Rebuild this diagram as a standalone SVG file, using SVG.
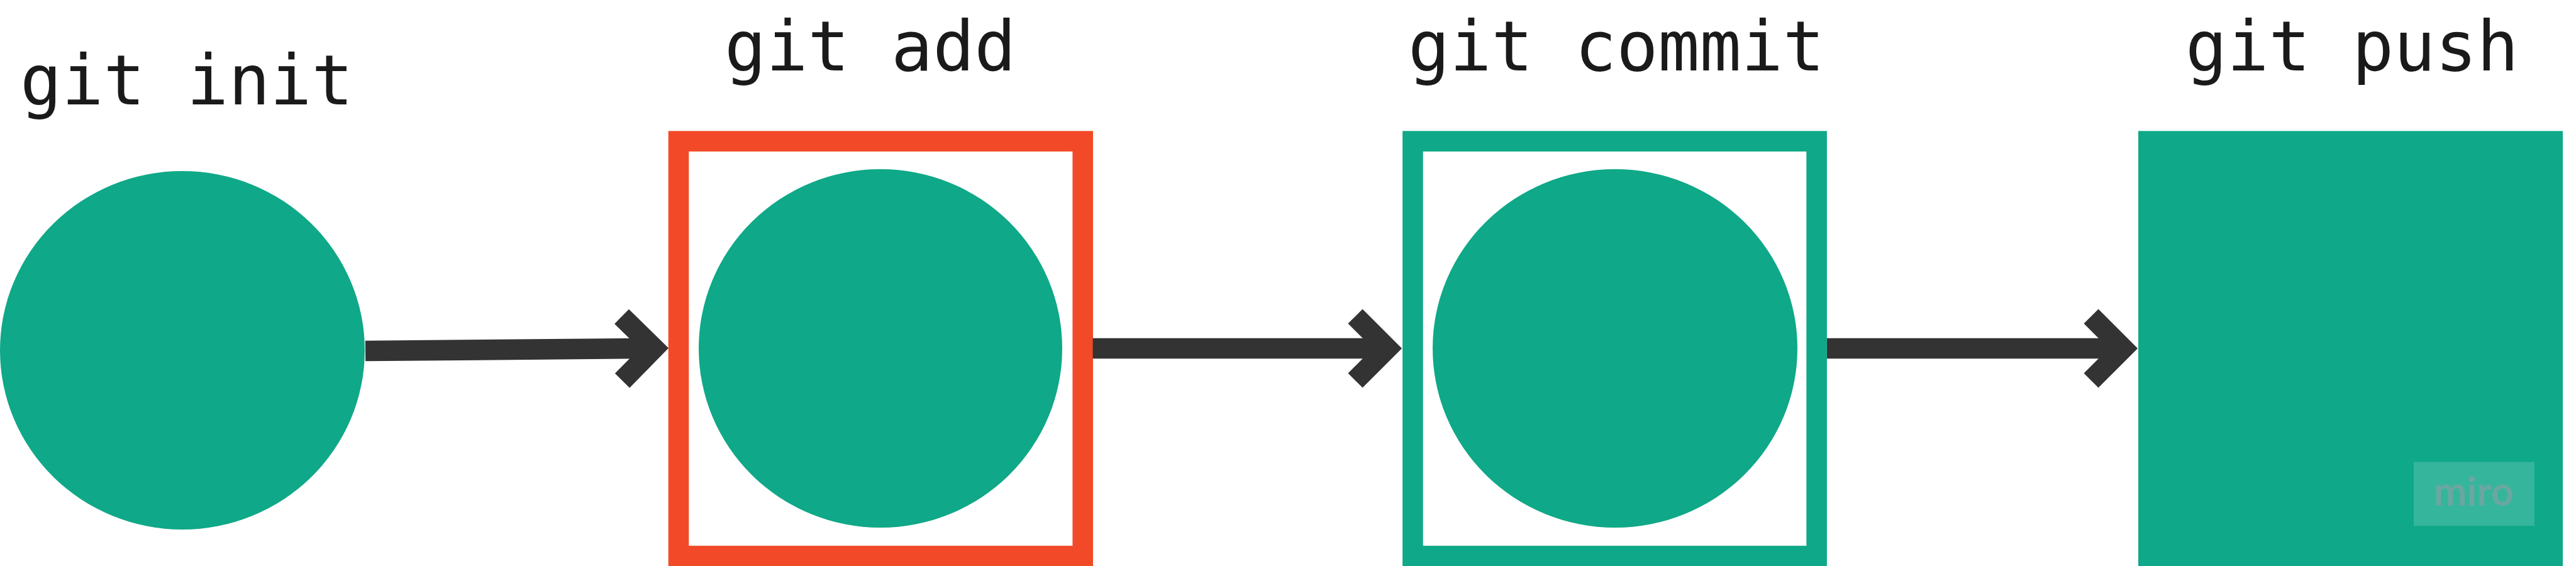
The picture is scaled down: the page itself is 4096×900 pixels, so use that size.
<svg xmlns="http://www.w3.org/2000/svg" width="4096" height="900" viewBox="0 0 4096 900">
  <style>
    .lbl { font-family: "DejaVu Sans Mono", "Liberation Mono", monospace; font-size: 110px; fill: #1a1a1a; }
    .teal { fill: #0fa888; }
    .frame { fill: none; stroke-width: 32.6; }
    .conn { fill: none; stroke: #333333; stroke-width: 32.6; marker-end: url(#chev); }
  </style>
  <defs>
    <marker id="chev" markerUnits="userSpaceOnUse" orient="auto" refX="0" refY="0" markerWidth="10" markerHeight="10" overflow="visible">
      <path d="M-29,-51 L22,0 L-29,51" fill="none" stroke="#333333" stroke-width="32.6" stroke-linejoin="miter" stroke-miterlimit="4"/>
    </marker>
  </defs>
  <rect width="4096" height="900" fill="#ffffff"/>

  <g id="node-init">
    <text class="lbl" x="32" y="166">git init</text>
    <ellipse class="teal" cx="290" cy="557" rx="290" ry="285"/>
  </g>

  <g id="node-add">
    <text class="lbl" x="1152" y="112">git add</text>
    <rect class="frame" x="1079" y="224.6" width="642.7" height="659.5" stroke="#f24a28"/>
    <ellipse class="teal" cx="1400" cy="554" rx="289" ry="285"/>
  </g>

  <g id="node-commit">
    <text class="lbl" x="2239" y="112">git commit</text>
    <rect class="frame" x="2246.4" y="224.6" width="642.2" height="659.5" stroke="#0fa888"/>
    <ellipse class="teal" cx="2568" cy="554" rx="290" ry="285"/>
  </g>

  <g id="node-push">
    <text class="lbl" x="3475" y="112">git push</text>
    <rect class="teal" x="3400" y="208.3" width="675" height="692"/>
    <rect x="3838" y="734.4" width="192" height="101.8" fill="#35b59c"/>
    <text x="3870" y="803.5" textLength="127" lengthAdjust="spacingAndGlyphs" font-family="Lato, 'Open Sans', sans-serif" font-weight="700" font-size="64" fill="#6aa7a1">miro</text>
  </g>

  <g id="connectors">
    <path class="conn" d="M581,558 L1018,554"/>
    <path class="conn" d="M1737.6,554 L2184,554"/>
    <path class="conn" d="M2905,554 L3354,554"/>
  </g>
</svg>
